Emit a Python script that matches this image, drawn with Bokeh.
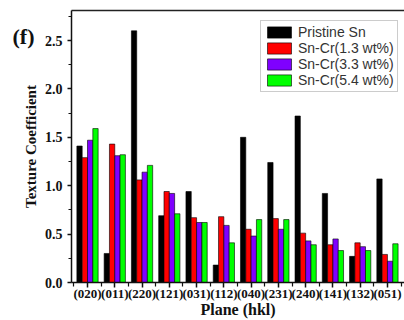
import numpy as np
from bokeh.plotting import figure
from bokeh.models import FixedTicker, LinearAxis, CustomJSTickFormatter
from bokeh.embed import file_html
from bokeh.resources import INLINE

planes = ["(020)", "(011)", "(220)", "(121)", "(031)", "(112)",
          "(040)", "(231)", "(240)", "(141)", "(132)", "(051)"]
pristine = [1.41, 0.30, 2.60, 0.69, 0.94, 0.18, 1.50, 1.24, 1.72, 0.92, 0.27, 1.07]
cr13 = [1.29, 1.43, 1.06, 0.94, 0.67, 0.68, 0.55, 0.66, 0.51, 0.39, 0.41, 0.29]
cr33 = [1.47, 1.31, 1.14, 0.92, 0.62, 0.59, 0.48, 0.55, 0.43, 0.45, 0.37, 0.22]
cr54 = [1.59, 1.32, 1.21, 0.71, 0.62, 0.41, 0.65, 0.65, 0.39, 0.33, 0.33, 0.40]
y_ticks = [0, 0.5, 1.0, 1.5, 2.0, 2.5]
y_minor = [0.25, 0.75, 1.25, 1.75, 2.25, 2.75]
panel_tag = "(f)"

series = [
    ("Pristine Sn", pristine, "#000000"),
    ("Sn-Cr(1.3 wt%)", cr13, "#FF0000"),
    ("Sn-Cr(3.3 wt%)", cr33, "#7F00FF"),
    ("Sn-Cr(5.4 wt%)", cr54, "#00FF00"),
]

serif = "Liberation Serif"
sans = "Liberation Sans"
ink = "#111111"

p = figure(width=404, height=320, x_range=(0.413, 12.625), y_range=(0, 2.81),
           output_backend="svg", toolbar_location=None,
           min_border_left=71, min_border_right=0, min_border_top=10, min_border_bottom=38)

centers = np.arange(1, len(planes) + 1)
w = 0.195
offsets = [-1.5 * w, -0.5 * w, 0.5 * w, 1.5 * w]
for (name, vals, col), off in zip(series, offsets):
    p.vbar(x=centers + off, top=vals, width=w, bottom=0, fill_color=col,
           line_color="black", line_width=0.6, legend_label=name)

p.xgrid.visible = False
p.ygrid.visible = False
p.outline_line_color = None

p.xaxis.ticker = FixedTicker(ticks=list(centers), minor_ticks=list(np.arange(0.5, 13, 1.0)))
p.xaxis.major_label_overrides = {int(c): lab for c, lab in zip(centers, planes)}
p.yaxis.ticker = FixedTicker(ticks=y_ticks, minor_ticks=y_minor)
p.yaxis.formatter = CustomJSTickFormatter(code="return tick.toFixed(1);")

for ax in (p.xaxis, p.yaxis):
    ax.axis_line_width = 1.5
    ax.axis_line_color = ink
    ax.major_tick_line_width = 1.5
    ax.major_tick_line_color = ink
    ax.minor_tick_line_width = 1.2
    ax.minor_tick_line_color = ink
    ax.major_tick_in = 0
    ax.minor_tick_in = 0
    ax.major_label_text_font = serif
    ax.major_label_text_font_style = "bold"
    ax.major_label_text_color = ink
    ax.axis_label_text_font = serif
    ax.axis_label_text_font_style = "bold"
    ax.axis_label_text_color = ink

p.xaxis.major_tick_out = 5
p.xaxis.minor_tick_out = 4
p.xaxis.major_label_text_font_size = "13px"
p.xaxis.major_label_standoff = -2
p.xaxis.axis_label = "Plane (hkl)"
p.xaxis.axis_label_text_font_size = "16px"
p.xaxis.axis_label_standoff = -3

p.yaxis.major_tick_out = 4
p.yaxis.minor_tick_out = 3
p.yaxis.major_label_text_font_size = "14px"
p.yaxis.major_label_standoff = 5
p.yaxis.axis_label = "Texture Coefficient"
p.yaxis.axis_label_text_font_size = "15px"
p.yaxis.axis_label_standoff = 3

# panel tag "(f)" as an outer, line-less left axis
tag_axis = LinearAxis(ticker=FixedTicker(ticks=[2.54], minor_ticks=[]),
                      major_label_overrides={2.54: panel_tag},
                      axis_line_color=None, major_tick_line_color=None,
                      minor_tick_line_color=None, major_tick_out=0, minor_tick_out=0,
                      major_label_standoff=-15, major_label_text_font=serif,
                      major_label_text_font_style="bold", major_label_text_font_size="22px",
                      major_label_text_color=ink)
p.add_layout(tag_axis, "left")

# top frame line
top_axis = LinearAxis(ticker=FixedTicker(ticks=[], minor_ticks=[]),
                      axis_line_color="#222222", axis_line_width=1.5,
                      major_tick_line_color=None, minor_tick_line_color=None,
                      major_tick_out=0, minor_tick_out=0, major_tick_in=0, minor_tick_in=0,
                      major_label_standoff=0, axis_label_standoff=0,
                      major_label_text_font_size="0px")
p.add_layout(top_axis, "above")

lg = p.legend[0]
lg.location = (189, 190)
lg.glyph_width = 30
lg.glyph_height = 14
lg.label_height = 14
lg.spacing = 0
lg.padding = 3
lg.margin = 0
lg.label_standoff = 4
lg.label_text_font = sans
lg.label_text_font_size = "14px"
lg.label_text_color = "#333333"
lg.label_text_baseline = "middle"
lg.border_line_color = "#999999"
lg.border_line_width = 1

open("out.html", "w").write(file_html(p, INLINE))
